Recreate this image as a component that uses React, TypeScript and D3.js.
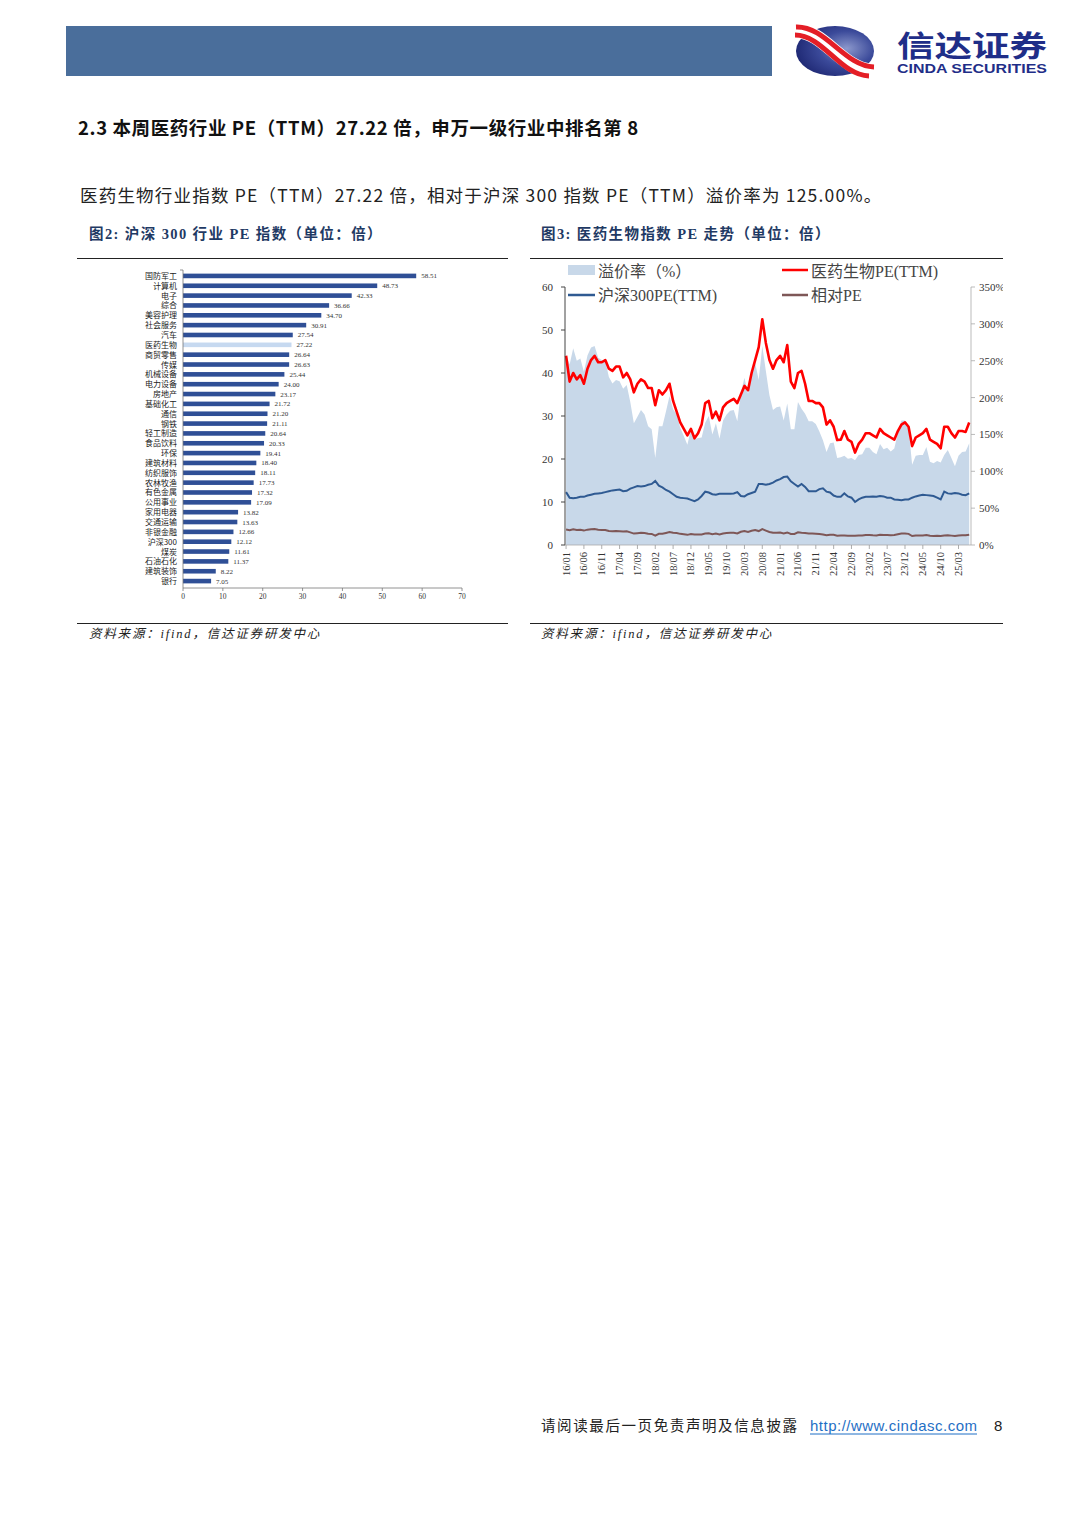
import React from 'react';
import * as d3 from 'd3';

// ---------- Left chart data ----------
const categories = ['国防军工','计算机','电子','综合','美容护理','社会服务','汽车','医药生物','商贸零售','传媒','机械设备','电力设备','房地产','基础化工','通信','钢铁','轻工制造','食品饮料','环保','建筑材料','纺织服饰','农林牧渔','有色金属','公用事业','家用电器','交通运输','非银金融','沪深300','煤炭','石油石化','建筑装饰','银行'];
const peValues = [58.51,48.73,42.33,36.66,34.70,30.91,27.54,27.22,26.64,26.63,25.44,24.00,23.17,21.72,21.20,21.11,20.64,20.33,19.41,18.40,18.11,17.73,17.32,17.09,13.82,13.63,12.66,12.12,11.61,11.37,8.22,7.05];
const highlight = '医药生物';
const barTicks = [0,10,20,30,40,50,60,70];

// ---------- Right chart data (monthly, 2016/01 .. 2025/06) ----------
const medPE = [44,38,40,38.5,39.5,37.5,41,43,44,42.5,42.5,43,41,40.5,41.5,41.5,39,40,38.5,35.5,37.5,38.5,38,36.5,36.5,32.5,36,35,36,37.5,33.5,31,28.5,27,25.5,27,24.8,26,28,33,33.5,29.5,31,29,32,33,33.5,34,33,35,37,36,40,43,46,52.5,47,43,41,43,44,42.5,46.5,38,36.5,40,40.5,37.5,33.5,33.5,33,33,32,28,29,27.5,24.4,24.5,26.5,24.5,24,21.5,23.5,24.5,26,26,25.5,25,27,26,25.5,25,24.5,26.5,28,28.5,27.5,23,25,25.5,26,27,24.5,24,23.5,22.5,27.5,27.5,26,25,26.5,26.5,26.3,28.5];
const hs300PE = [12.3,11.0,10.9,11.0,11.2,11.2,11.5,11.7,11.9,12.0,12.1,12.3,12.5,12.7,12.8,12.9,12.5,12.6,13.1,13.4,13.7,13.6,13.7,14.0,14.2,14.9,13.8,13.4,12.8,12.4,11.8,11.2,11.0,10.9,10.8,10.5,10.2,10.6,11.4,12.4,12.2,11.8,11.7,11.9,11.9,11.9,11.9,12.0,12.3,11.4,11.3,11.8,12.1,12.4,14.2,14.2,14.0,14.2,14.5,15.0,15.3,15.8,15.9,14.8,14.2,13.6,14.2,13.5,12.5,12.5,12.5,13.0,13.2,12.4,12.2,11.5,11.2,11.2,12.0,11.3,11.0,10.0,10.6,11.0,11.2,11.2,11.3,11.2,11.4,11.3,11.0,11.0,10.6,10.5,10.4,10.6,10.6,11.0,11.3,11.5,11.7,11.6,11.5,11.4,11.0,10.6,12.4,12.0,11.9,12.1,12.0,11.7,11.6,12.0];
const relPE = [3.58,3.45,3.67,3.50,3.53,3.35,3.57,3.68,3.70,3.54,3.51,3.50,3.28,3.19,3.24,3.22,3.12,3.17,2.94,2.65,2.74,2.83,2.77,2.61,2.57,2.18,2.61,2.61,2.81,3.02,2.84,2.77,2.59,2.48,2.36,2.57,2.43,2.45,2.46,2.66,2.75,2.50,2.65,2.44,2.69,2.77,2.82,2.83,2.68,3.07,3.27,3.05,3.31,3.47,3.24,3.70,3.36,3.03,2.83,2.87,2.88,2.69,2.92,2.57,2.57,2.94,2.85,2.78,2.68,2.68,2.64,2.54,2.42,2.26,2.38,2.39,2.18,2.19,2.21,2.17,2.18,2.15,2.22,2.23,2.32,2.32,2.26,2.23,2.37,2.30,2.32,2.27,2.31,2.52,2.69,2.69,2.59,2.09,2.21,2.22,2.22,2.33,2.13,2.11,2.14,2.12,2.22,2.29,2.18,2.07,2.21,2.26,2.27,2.38];
const premium = [258,245,267,250,253,235,257,268,270,254,251,250,228,219,224,222,212,217,194,165,174,183,177,161,157,118,161,161,181,202,184,177,159,148,136,157,143,145,146,166,175,150,165,144,169,177,182,183,168,207,227,205,231,247,224,270,236,203,183,187,188,169,192,157,157,194,185,178,168,168,164,154,142,126,138,139,118,119,121,117,118,115,122,123,132,132,126,123,137,130,132,127,131,152,169,169,159,109,121,122,122,133,113,111,114,112,122,129,118,107,121,126,127,138];
const dateTicks = ['16/01','16/06','16/11','17/04','17/09','18/02','18/07','18/12','19/05','19/10','20/03','20/08','21/01','21/06','21/11','22/04','22/09','23/02','23/07','23/12','24/05','24/10','25/03'];
const leftTicks = [0,10,20,30,40,50,60];
const rightTicks = [0,50,100,150,200,250,300,350];

const serif = '"Liberation Serif","Noto Sans CJK SC",serif';
const sans = '"Noto Sans CJK SC","Noto Sans",sans-serif';

function BarChart() {
  const x = d3.scaleLinear().domain([0, 70]).range([183, 462]);
  const y = d3.scaleBand<string>().domain(categories).range([271, 586]);
  const bh = 4.6;
  return (
    <g>
      {categories.map((c, i) => {
        const cy = (y(c) as number) + y.bandwidth() / 2;
        return (
          <g key={c}>
            <rect x={x(0)} y={cy - bh / 2} width={x(peValues[i]) - x(0)} height={bh}
              fill={c === highlight ? '#C6D9F0' : '#2F4F96'} />
            <text x={177} y={cy + 3} fontSize={8} textAnchor="end" fill="#222" fontFamily={sans}>{c}</text>
            <text x={x(peValues[i]) + 5} y={cy + 2.5} fontSize={7} fill="#333" fontFamily={serif}>{peValues[i].toFixed(2)}</text>
          </g>
        );
      })}
      <line x1={183} x2={183} y1={270} y2={588} stroke="#777" strokeWidth={0.8} />
      <line x1={180} x2={183} y1={270} y2={270} stroke="#777" strokeWidth={0.8} />
      <line x1={183} x2={462} y1={588} y2={588} stroke="#777" strokeWidth={0.8} />
      {barTicks.map(t => (
        <g key={t}>
          <line x1={x(t)} x2={x(t)} y1={588} y2={591} stroke="#777" strokeWidth={0.8} />
          <text x={x(t)} y={599} fontSize={7.5} textAnchor="middle" fill="#333" fontFamily={serif}>{t}</text>
        </g>
      ))}
    </g>
  );
}

function LineChart() {
  const n = medPE.length;
  const x = d3.scaleLinear().domain([-0.3, n - 0.5]).range([565, 971]);
  const yL = d3.scaleLinear().domain([0, 60]).range([545, 287]);
  const yR = d3.scaleLinear().domain([0, 350]).range([545, 287]);
  const idx = d3.range(n);
  const area = d3.area<number>().x(i => x(i)).y0(yR(0)).y1(i => yR(premium[i]));
  const lineOf = (arr: number[]) => d3.line<number>().x(i => x(i)).y(i => yL(arr[i]))(idx) as string;
  const tickIdx = (s: string) => {
    const [yy, mm] = s.split('/').map(Number);
    return (yy - 16) * 12 + (mm - 1);
  };
  return (
    <g>
      <defs>
        <clipPath id="rclip"><rect x={530} y={255} width={473} height={370} /></clipPath>
      </defs>
      <path d={area(idx) as string} fill="#C8D8E9" />
      <path d={lineOf(relPE)} fill="none" stroke="#7E5757" strokeWidth={2} />
      <path d={lineOf(hs300PE)} fill="none" stroke="#2F5A92" strokeWidth={2} />
      <path d={lineOf(medPE)} fill="none" stroke="#FF0000" strokeWidth={2.6} strokeLinejoin="round" />
      {/* left axis */}
      <line x1={565} x2={565} y1={287} y2={545} stroke="#444" strokeWidth={1} />
      {leftTicks.map(t => (
        <g key={t}>
          <line x1={561} x2={565} y1={yL(t)} y2={yL(t)} stroke="#444" strokeWidth={1} />
          <text x={553} y={yL(t) + 4} fontSize={11} textAnchor="end" fill="#333" fontFamily={serif}>{t}</text>
        </g>
      ))}
      {/* right axis */}
      <line x1={971} x2={971} y1={287} y2={545} stroke="#aaa" strokeWidth={0.8} />
      <g clipPath="url(#rclip)">
        {rightTicks.map(t => (
          <g key={t}>
            <line x1={971} x2={975} y1={yR(t)} y2={yR(t)} stroke="#aaa" strokeWidth={0.8} />
            <text x={979} y={yR(t) + 4} fontSize={11} fill="#333" fontFamily={serif}>{t}%</text>
          </g>
        ))}
      </g>
      {/* bottom axis */}
      <line x1={565} x2={971} y1={545} y2={545} stroke="#aaa" strokeWidth={0.8} />
      {dateTicks.map(s => {
        const xx = x(tickIdx(s));
        return (
          <g key={s}>
            <line x1={xx} x2={xx} y1={545} y2={549} stroke="#999" strokeWidth={0.8} />
            <text transform={`translate(${xx + 3.5},552) rotate(-90)`} fontSize={10.5} textAnchor="end" fill="#333" fontFamily={serif}>{s}</text>
          </g>
        );
      })}
      {/* legend */}
      <rect x={568} y={265} width={27} height={10} fill="#C8D8E9" />
      <text x={598} y={277} fontSize={16} fill="#444" fontFamily={serif}>溢价率（%）</text>
      <line x1={568} x2={595} y1={295} y2={295} stroke="#2F5A92" strokeWidth={2.5} />
      <text x={598} y={301} fontSize={16} fill="#444" fontFamily={serif}>沪深300PE(TTM)</text>
      <line x1={782} x2={808} y1={270} y2={270} stroke="#FF0000" strokeWidth={2.5} />
      <text x={811} y={277} fontSize={16} fill="#444" fontFamily={serif}>医药生物PE(TTM)</text>
      <line x1={782} x2={808} y1={295} y2={295} stroke="#7E5757" strokeWidth={2.5} />
      <text x={811} y={301} fontSize={16} fill="#444" fontFamily={serif}>相对PE</text>
    </g>
  );
}

function Logo() {
  return (
    <g>
      <defs>
        <radialGradient id="lg" cx="0.65" cy="0.45" r="0.7">
          <stop offset="0" stopColor="#8C98CC" />
          <stop offset="0.5" stopColor="#3B4A9A" />
          <stop offset="1" stopColor="#1C2570" />
        </radialGradient>
      </defs>
      <ellipse cx={835} cy={51} rx={39} ry={25} fill="url(#lg)" />
      <path d="M796 31 C824 30 842 70 872 71" fill="none" stroke="#fff" strokeWidth={15} />
      <path d="M796 27 C826 26 844 66 874 67" fill="none" stroke="#E41E26" strokeWidth={5} />
      <path d="M795 35 C823 35 840 75 869 76" fill="none" stroke="#E41E26" strokeWidth={5} />
      <text x={897} y={57} fontSize={29} fontWeight={700} fill="#1F2E88" fontFamily={sans} textLength={150} lengthAdjust="spacingAndGlyphs">信达证券</text>
      <text x={897} y={73} fontSize={12} fontWeight={700} fill="#1F2E88" fontFamily='"Liberation Sans",Arial,sans-serif' textLength={150} lengthAdjust="spacingAndGlyphs">CINDA SECURITIES</text>
    </g>
  );
}

export default function App() {
  return (
    <svg width={1080} height={1527} viewBox="0 0 1080 1527" style={{ position: 'absolute', left: 0, top: 0, background: '#fff' }}>
      <rect x={0} y={0} width={1080} height={1527} fill="#fff" />
      <rect x={66} y={26} width={706} height={50} fill="#4A6E9B" />
      <Logo />
      <text x={78} y={135} fontSize={18.5} fontWeight={700} fill="#111" fontFamily={sans} letterSpacing={0.6}>2.3 本周医药行业 PE（TTM）27.22 倍，申万一级行业中排名第 8</text>
      <text x={80} y={202} fontSize={17.5} fill="#222" fontFamily={sans} letterSpacing={1.2}>医药生物行业指数 PE（TTM）27.22 倍，相对于沪深 300 指数 PE（TTM）溢价率为 125.00%。</text>
      <text x={89} y={239} fontSize={14.5} fontWeight={700} fill="#1F3A64" fontFamily={serif} letterSpacing={1.4}>图2: 沪深 300 行业 PE 指数（单位：倍）</text>
      <text x={541} y={239} fontSize={14.5} fontWeight={700} fill="#1F3A64" fontFamily={serif} letterSpacing={1.4}>图3: 医药生物指数 PE 走势（单位：倍）</text>
      <line x1={77} x2={508} y1={258.5} y2={258.5} stroke="#222" strokeWidth={1.2} />
      <line x1={530} x2={1003} y1={258.5} y2={258.5} stroke="#222" strokeWidth={1.2} />
      <line x1={77} x2={508} y1={623.5} y2={623.5} stroke="#222" strokeWidth={1.2} />
      <line x1={530} x2={1003} y1={623.5} y2={623.5} stroke="#222" strokeWidth={1.2} />
      <BarChart />
      <LineChart />
      <text x={89} y={638} fontSize={12.5} fontStyle="italic" fill="#222" fontFamily={serif} letterSpacing={1.8}>资料来源：ifind，信达证券研发中心</text>
      <text x={541} y={638} fontSize={12.5} fontStyle="italic" fill="#222" fontFamily={serif} letterSpacing={1.8}>资料来源：ifind，信达证券研发中心</text>
      <text x={541} y={1431} fontSize={14.5} fill="#222" fontFamily={sans} letterSpacing={1.6}>请阅读最后一页免责声明及信息披露</text>
      <text x={810} y={1431} fontSize={15} fill="#1F6FC5" fontFamily='"Liberation Sans",Arial,sans-serif' textLength={167}>http://www.cindasc.com</text>
      <line x1={810} x2={977} y1={1434} y2={1434} stroke="#1F6FC5" strokeWidth={1} />
      <text x={994} y={1431} fontSize={15} fill="#222" fontFamily='"Liberation Sans",Arial,sans-serif'>8</text>
    </svg>
  );
}
